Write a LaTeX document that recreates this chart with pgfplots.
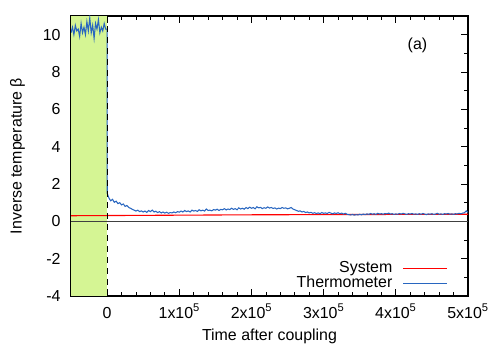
\documentclass[border=0pt]{standalone}
\usepackage{fontspec}
\setmainfont{Liberation Sans}
\usepackage{pgfplots}
\usepackage{pgfplotstable}
\pgfplotsset{compat=1.18}

\definecolor{thermo}{RGB}{40,102,192}
\definecolor{sysred}{RGB}{255,0,0}
\definecolor{prep}{RGB}{213,245,148}

% time in units of 10^3
\pgfplotstableread{
t beta
-50 10.1
-48 10.4
-46 10.0
-44 10.5
-42 10.2
-40 10.3
-38 9.9
-36 10.6
-34 10.1
-32 10.4
-30 10.0
-28 10.7
-26 10.2
-24 10.9
-22 10.1
-20 10.5
-18 9.8
-16 10.6
-14 10.3
-12 10.8
-10 10.1
-8 10.4
-6 10.2
-4 10.6
-2 10.3
0 10.3
0.2 1.50
2.5 1.25
5 1.10
7.5 1.18
10 1.02
12.5 1.08
15 0.95
17.5 1.00
20 0.88
22.5 0.93
25 0.80
27.5 0.85
30 0.74
32.5 0.70
35 0.64
37.5 0.60
40 0.55
42.5 0.60
45 0.52
47.5 0.56
50 0.50
52.5 0.55
55 0.48
57.5 0.58
60 0.52
62.5 0.60
65 0.50
67.5 0.54
70 0.47
72.5 0.52
75 0.45
77.5 0.50
80 0.44
82.5 0.49
85 0.43
87.5 0.47
90 0.45
92.5 0.50
95 0.46
97.5 0.52
100 0.49
102.5 0.55
105 0.50
107.5 0.58
110 0.52
112.5 0.56
115 0.50
117.5 0.60
120 0.55
122.5 0.58
125 0.53
127.5 0.62
130 0.56
132.5 0.60
135 0.55
137.5 0.66
140 0.58
142.5 0.60
145 0.56
147.5 0.63
150 0.60
152.5 0.65
155 0.58
157.5 0.64
160 0.62
162.5 0.68
165 0.61
167.5 0.66
170 0.63
172.5 0.70
175 0.64
177.5 0.68
180 0.62
182.5 0.72
185 0.66
187.5 0.70
190 0.65
192.5 0.74
195 0.68
197.5 0.76
200 0.70
202.5 0.74
205 0.67
207.5 0.78
210 0.72
212.5 0.75
215 0.68
217.5 0.73
220 0.70
222.5 0.77
225 0.71
227.5 0.74
230 0.69
232.5 0.72
235 0.66
237.5 0.71
240 0.68
242.5 0.74
245 0.70
247.5 0.72
250 0.67
252.5 0.70
255 0.74
257.5 0.66
260 0.62
262.5 0.58
265 0.54
267.5 0.56
270 0.50
272.5 0.53
275 0.47
277.5 0.50
280 0.45
282.5 0.48
285 0.43
287.5 0.46
290 0.42
292.5 0.45
295 0.41
297.5 0.47
300 0.43
302.5 0.45
305 0.42
307.5 0.48
310 0.44
312.5 0.40
315 0.45
317.5 0.42
320 0.46
322.5 0.41
325 0.44
327.5 0.39
330 0.43
332.5 0.38
335 0.36
337.5 0.34
340 0.37
342.5 0.33
345 0.36
347.5 0.34
350 0.38
352.5 0.35
355 0.39
357.5 0.36
360 0.40
362.5 0.37
365 0.42
367.5 0.38
370 0.41
372.5 0.37
375 0.43
377.5 0.39
380 0.41
382.5 0.38
385 0.42
387.5 0.40
390 0.44
392.5 0.39
395 0.41
397.5 0.37
400 0.40
402.5 0.38
405 0.42
407.5 0.39
410 0.43
412.5 0.40
415 0.37
417.5 0.41
420 0.39
422.5 0.42
425 0.38
427.5 0.40
430 0.37
432.5 0.41
435 0.38
437.5 0.42
440 0.39
442.5 0.36
445 0.40
447.5 0.38
450 0.41
452.5 0.37
455 0.39
457.5 0.43
460 0.38
462.5 0.40
465 0.37
467.5 0.41
470 0.39
472.5 0.42
475 0.38
477.5 0.40
480 0.37
482.5 0.41
485 0.39
487.5 0.43
490 0.40
492.5 0.44
495 0.46
497.5 0.56
500 0.48
}\thermodata

\pgfplotstableread{
t beta
-50 0.30
0 0.31
100 0.33
200 0.35
300 0.36
400 0.37
500 0.38
}\sysdata

\begin{document}
\fontsize{16}{19}\selectfont
\begin{tikzpicture}
\useasboundingbox (-71bp,-53bp) rectangle (427bp,296bp);
\begin{axis}[
    scale only axis,
    width=397bp, height=280bp,
    xmin=-50, xmax=500,
    ymin=-4, ymax=11,
    axis line style={line width=1.1pt},
    tick align=inside,
    major tick length=7bp,
    minor tick length=4bp,
    tick style={black, line width=0.7pt},
    xtick={0,100,200,300,400,500},
    xticklabels={0,1x10\textsuperscript{5},2x10\textsuperscript{5},3x10\textsuperscript{5},4x10\textsuperscript{5},5x10\textsuperscript{5}},
    minor xtick={-40,-20,...,500},
    ytick={-4,-2,...,10},
    yticklabels={-4,-2,0,2,4,6,8,10},
    minor ytick={-3,-1,...,9},
    xticklabel style={anchor=base, yshift=-22bp},
    yticklabel style={xshift=-5bp},
    xlabel={Time after coupling},
    ylabel={Inverse temperature β},
    ylabel style={yshift=7bp},
    legend cell align=right,
    legend plot pos=right,
    legend style={draw=none, fill=none, at={(0.95,0.015)}, anchor=south east,
        inner sep=0pt, row sep=-2bp, nodes={inner sep=1.5bp}},
    legend image code/.code={\path (0bp,0bp); \draw[#1] (9bp,0bp) -- (53bp,0bp);},
]
\addplot[fill=prep, draw=none, forget plot] coordinates {(-50,-4) (0,-4) (0,11) (-50,11)} -- cycle;
\addplot[black!75, line width=0.6pt, forget plot] coordinates {(-50,0) (500,0)};
\addplot[sysred, line width=1.1pt] table[x=t, y=beta] {\sysdata};
\addlegendentry{System}
\addplot[thermo, line width=1.05pt] table[x=t, y=beta] {\thermodata};
\addlegendentry{Thermometer}
\addplot[black, line width=0.8pt, dash pattern=on 6bp off 5bp, forget plot] coordinates {(0,-4) (0,11)};
\node at (axis cs:430,9.4) {(a)};
\end{axis}
\end{tikzpicture}
\end{document}
